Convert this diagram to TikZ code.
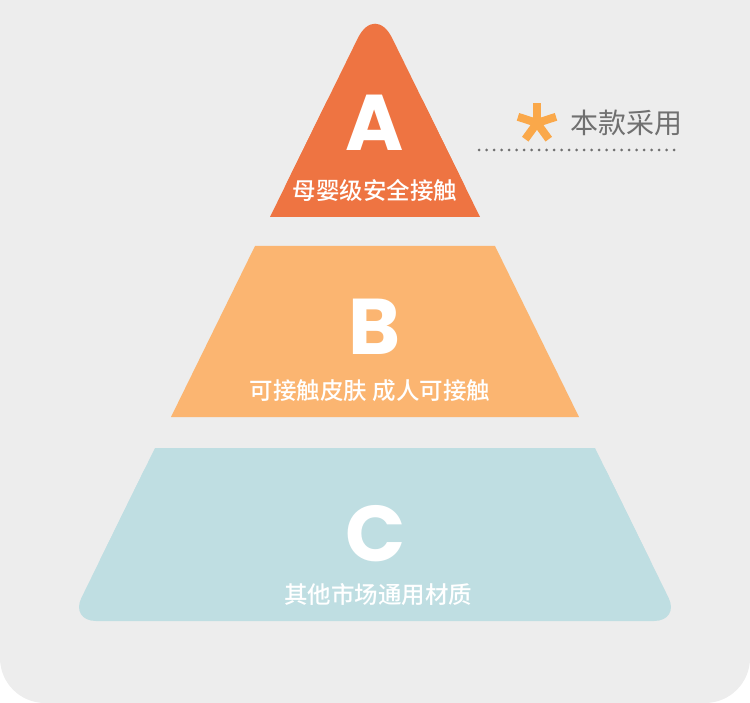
\documentclass[tikz,border=0pt]{standalone}
\usepackage{fontspec}
\usepackage{tikz}
\newfontfamily\cjk{Noto Sans CJK SC}
\newfontfamily\cjkmed{Noto Sans CJK SC Medium}
\newfontfamily\lettfont{Poppins}
\definecolor{sfondo}{RGB}{237,237,237}
\definecolor{livA}{RGB}{238,116,66}
\definecolor{livB}{RGB}{251,181,113}
\definecolor{livC}{RGB}{191,222,226}
\definecolor{stellina}{RGB}{250,168,74}
\definecolor{grigio}{RGB}{112,112,112}

\begin{document}
\begin{tikzpicture}[x=1pt, y=-1pt, node distance=65pt]

% Stili
\tikzstyle{letter} = [text=white, inner sep=0pt,
    font=\lettfont\bfseries\fontsize{79}{79}\selectfont]
\tikzstyle{caption} = [text=white, inner sep=0pt,
    font=\cjkmed\fontsize{23.5}{24}\selectfont]
\tikzstyle{note} = [text=grigio, inner sep=0pt, font=\cjk\fontsize{28}{30}\selectfont]
\tikzstyle{asterisk} = [stellina, line width=8pt]
\tikzstyle{dotline} = [grigio, line width=3pt, line cap=round, dash pattern=on 0pt off 7.5pt]

% Sfondo
\useasboundingbox (0,0) rectangle (750,703);
\fill[sfondo, rounded corners=45pt] (0,-60) rectangle (750,703);

% Livelli
\fill[livA, rounded corners=39pt] (270,217) -- (375,3.2) -- (480,217) -- cycle;
\fill[livA] (270,217) -- (327.5,100) -- (422.5,100) -- (480,217) -- cycle;
\fill[livB] (171,417) -- (255,246) -- (495,246) -- (579,417) -- cycle;
\fill[livC, rounded corners=26pt] (70,621) -- (155,448) -- (595,448) -- (680,621) -- cycle;
\fill[livC] (100,560) -- (155,448) -- (595,448) -- (650,560) -- cycle;

% Nodi
\node (lettA) [letter] at (375,122.5) {A};
\node (descA) [caption, node distance=67.5pt, below of=lettA] {母婴级安全接触};
\node (lettB) [letter] at (375,326.5) {B};
\node (descB) [caption, node distance=64.5pt, below of=lettB, xshift=-5pt] {可接触皮肤 成人可接触};
\node (lettC) [letter] at (376,534) {C};
\node (descC) [caption, node distance=61pt, below of=lettC, xshift=2pt] {其他市场通用材质};

% Nota a destra
\coordinate (stella) at (537,123);
\foreach \ang in {90,18,162,234,306}
  \draw[asterisk] (stella) -- ++(\ang:20pt);
\node (scelta) [note, anchor=west] at (570,123) {本款采用};
\coordinate (punti1) at (479,150);
\coordinate (punti2) at (680,150);
\draw[dotline] (punti1) -- (punti2);

\end{tikzpicture}
\end{document}
